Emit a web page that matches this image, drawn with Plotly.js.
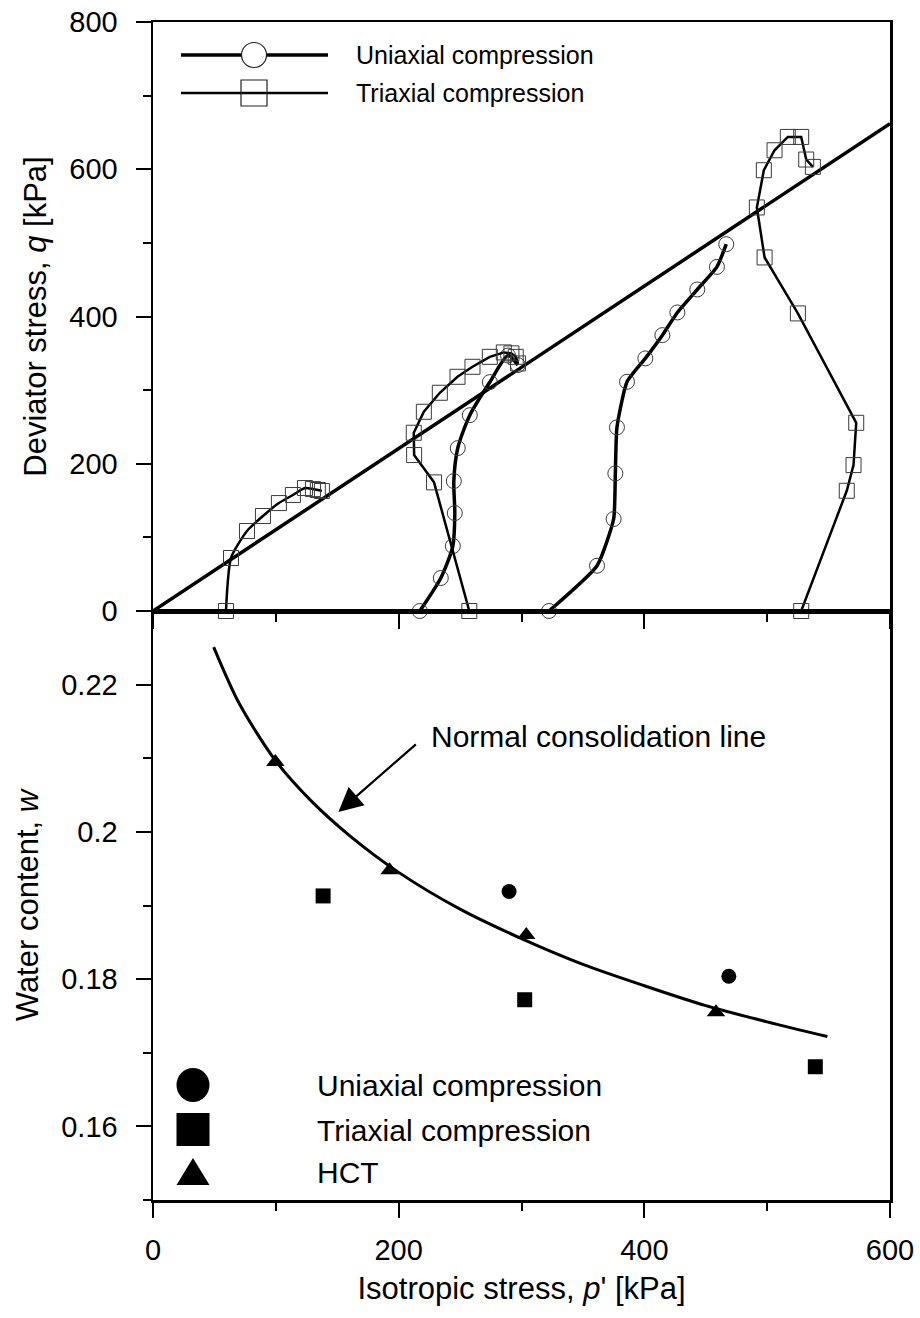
<!DOCTYPE html>
<html><head><meta charset="utf-8">
<script src="https://cdn.plot.ly/plotly-3.0.1.min.js"></script>
<style>html,body{margin:0;padding:0;background:#fff}#chart{width:920px;height:1318px}</style>
</head><body><div id="chart"></div>
<script>
// ---- Top panel: stress paths (p' [kPa], q [kPa]) ----
const failP = [0, 600];
const failQ = [0, 662];

const tri1P = [59.4, 63.5, 76.5, 89.5, 102.5, 113.9, 123.7, 130.2, 134.2, 137.5];
const tri1Q = [0, 72, 108.6, 129, 146.6, 157.5, 167, 165.6, 164.3, 163];

const uni2P = [217.2, 234.3, 244.1, 245.7, 244.9, 248.1, 257.9, 274.2, 289.0, 297.0];
const uni2Q = [0, 44.8, 88.2, 133, 176.5, 221.3, 266, 310.9, 347.0, 334.0];

const tri3P = [257.5, 228.8, 212.6, 212.3, 220.5, 233.5, 247.9, 260.1, 274.2, 285.6, 291.8, 295.3, 297.2];
const tri3Q = [0, 174.7, 211.8, 242.1, 270.6, 296.4, 318.1, 331.7, 345.2, 351.2, 349.9, 345.2, 336.3];

const uni4P = [322.4, 361.5, 375.0, 376.4, 377.7, 385.9, 400.8, 414.7, 426.9, 443.1, 459.1, 466.7];
const uni4Q = [0, 61.5, 124.9, 186.9, 249.4, 311.3, 343.1, 374.7, 405.5, 436.7, 467.4, 498.2];

const tri5P = [527.7, 564.8, 570.3, 572.5, 525.0, 497.9, 491.6, 497.3, 506.0, 516.8, 527.7, 531.8, 537.2];
const tri5Q = [0, 163.3, 198.2, 255.6, 404.2, 480.2, 548.1, 598.7, 625.8, 643.9, 643.9, 613.2, 603.2];

// ---- Bottom panel: water content vs isotropic stress ----
const nclP = [49.4, 70, 99.6, 130, 160, 200, 250, 300, 350, 400, 450, 500, 549];
const nclW = [0.2251, 0.2175, 0.2097, 0.2040, 0.1995, 0.1945, 0.1895, 0.1855, 0.1820, 0.1791, 0.1764, 0.1742, 0.1722];

const uniP = [289.9, 468.8];
const uniW = [0.1919, 0.1804];
const triP = [138.5, 302.6, 539.2];
const triW = [0.1913, 0.1772, 0.1681];
const hctP = [99.6, 192.6, 303.9, 458.3];
const hctW = [0.2095, 0.1948, 0.1860, 0.1755];

const legendTop = ['Uniaxial compression', 'Triaxial compression'];
const legendBottom = ['Uniaxial compression', 'Triaxial compression', 'HCT'];
const nclLabel = 'Normal consolidation line';

const FONT = 'Liberation Sans, Arial, sans-serif';
const openMarker = (sym) => ({symbol: sym, size: 15, color: '#3a3a3a', line: {width: 1, color: '#3a3a3a'}});

const traces = [
  {x: failP, y: failQ, mode: 'lines', line: {color: '#000', width: 3.5}, xaxis: 'x', yaxis: 'y', hoverinfo: 'skip'},
  {x: tri1P, y: tri1Q, mode: 'lines+markers', line: {color: '#000', width: 2.5, shape: 'spline', smoothing: 0.6}, marker: openMarker('square-open'), cliponaxis: false, xaxis: 'x', yaxis: 'y'},
  {x: uni2P, y: uni2Q, mode: 'lines+markers', line: {color: '#000', width: 3.5, shape: 'spline', smoothing: 0.7}, marker: openMarker('circle-open'), cliponaxis: false, xaxis: 'x', yaxis: 'y'},
  {x: tri3P, y: tri3Q, mode: 'lines+markers', line: {color: '#000', width: 2.5}, marker: openMarker('square-open'), cliponaxis: false, xaxis: 'x', yaxis: 'y'},
  {x: uni4P, y: uni4Q, mode: 'lines+markers', line: {color: '#000', width: 3.5, shape: 'spline', smoothing: 0.5}, marker: openMarker('circle-open'), cliponaxis: false, xaxis: 'x', yaxis: 'y'},
  {x: tri5P, y: tri5Q, mode: 'lines+markers', line: {color: '#000', width: 2.5}, marker: openMarker('square-open'), cliponaxis: false, xaxis: 'x', yaxis: 'y'},
  {x: nclP, y: nclW, mode: 'lines', line: {color: '#000', width: 3, shape: 'spline', smoothing: 0.8}, xaxis: 'x2', yaxis: 'y2'},
  {x: uniP, y: uniW, mode: 'markers', marker: {symbol: 'circle', size: 15, color: '#000'}, xaxis: 'x2', yaxis: 'y2'},
  {x: triP, y: triW, mode: 'markers', marker: {symbol: 'square', size: 15, color: '#000'}, xaxis: 'x2', yaxis: 'y2'},
  {x: hctP, y: hctW, mode: 'markers', marker: {symbol: 'triangle-up', size: 16, color: '#000'}, xaxis: 'x2', yaxis: 'y2'}
];

const axisBase = {
  showline: true, linecolor: '#000', linewidth: 2.5, mirror: true,
  ticks: 'outside', ticklen: 15, tickwidth: 2, tickcolor: '#000',
  showgrid: false, zeroline: false,
  tickfont: {family: FONT, size: 29, color: '#000'},
  ticklabelstandoff: 12
};
const minorBase = {ticks: 'outside', ticklen: 8, tickwidth: 2, tickcolor: '#000', showgrid: false};

// paper-coordinate helpers for the hand-drawn legends (pixel -> paper)
const L = 153, R = 30, T = 22, B = 118, W = 920, H = 1318;
const px = (v) => (v - L) / (W - L - R);
const py = (v) => 1 - (v - T) / (H - T - B);

const shapes = [
  // top legend
  {type: 'line', xref: 'paper', yref: 'paper', x0: px(181), x1: px(328), y0: py(55), y1: py(55), line: {color: '#000', width: 3.5}},
  {type: 'circle', xref: 'paper', yref: 'paper', x0: px(241.5), x1: px(266.5), y0: py(67.5), y1: py(42.5), fillcolor: '#fff', line: {color: '#222', width: 1.2}},
  {type: 'line', xref: 'paper', yref: 'paper', x0: px(181), x1: px(328), y0: py(93), y1: py(93), line: {color: '#000', width: 2.5}},
  {type: 'rect', xref: 'paper', yref: 'paper', x0: px(241), x1: px(267), y0: py(106), y1: py(80), fillcolor: 'rgba(255,255,255,0)', line: {color: '#222', width: 1.2}},
  // bottom legend
  {type: 'circle', xref: 'paper', yref: 'paper', x0: px(176.5), x1: px(209.5), y0: py(1102), y1: py(1068), fillcolor: '#000', line: {color: '#000', width: 0}},
  {type: 'rect', xref: 'paper', yref: 'paper', x0: px(176.5), x1: px(209.5), y0: py(1146), y1: py(1113), fillcolor: '#000', line: {color: '#000', width: 0}},
  {type: 'path', xref: 'paper', yref: 'paper', path: `M ${px(193)} ${py(1158)} L ${px(209.5)} ${py(1185)} L ${px(176.5)} ${py(1185)} Z`, fillcolor: '#000', line: {color: '#000', width: 0}}
];

const annotations = [
  {xref: 'paper', yref: 'paper', x: px(354), y: py(55), xanchor: 'left', yanchor: 'middle', text: legendTop[0], showarrow: false, font: {family: FONT, size: 25, color: '#000'}},
  {xref: 'paper', yref: 'paper', x: px(354), y: py(93), xanchor: 'left', yanchor: 'middle', text: legendTop[1], showarrow: false, font: {family: FONT, size: 25, color: '#000'}},
  {xref: 'paper', yref: 'paper', x: px(315), y: py(1085), xanchor: 'left', yanchor: 'middle', text: legendBottom[0], showarrow: false, font: {family: FONT, size: 30, color: '#000'}},
  {xref: 'paper', yref: 'paper', x: px(315), y: py(1130), xanchor: 'left', yanchor: 'middle', text: legendBottom[1], showarrow: false, font: {family: FONT, size: 30, color: '#000'}},
  {xref: 'paper', yref: 'paper', x: px(315), y: py(1172), xanchor: 'left', yanchor: 'middle', text: legendBottom[2], showarrow: false, font: {family: FONT, size: 30, color: '#000'}},
  {xref: 'x2', yref: 'y2', x: 225, y: 0.2129, xanchor: 'left', yanchor: 'middle', text: nclLabel, showarrow: false, font: {family: FONT, size: 30, color: '#000'}},
  {xref: 'x2', yref: 'y2', x: 150.9, y: 0.2027, text: '', showarrow: true, ax: 79, ay: -69, arrowhead: 2, arrowsize: 2.2, arrowwidth: 2.2, arrowcolor: '#000', standoff: 0}
];

const layout = {
  width: W, height: H,
  margin: {l: L, r: R, t: T, b: B},
  paper_bgcolor: '#fff', plot_bgcolor: '#fff',
  showlegend: false,
  font: {family: FONT, color: '#000'},
  xaxis: Object.assign({}, axisBase, {domain: [0, 1], anchor: 'y', range: [0, 600], dtick: 200, tick0: 0, showticklabels: false, minor: Object.assign({dtick: 100}, minorBase)}),
  yaxis: Object.assign({}, axisBase, {domain: [0.5, 1], anchor: 'x', range: [0, 800], dtick: 200, tick0: 0, minor: Object.assign({dtick: 100}, minorBase),
    title: {text: 'Deviator stress, <i>q</i> [kPa]', font: {family: FONT, size: 31, color: '#000'}, standoff: 14}}),
  xaxis2: Object.assign({}, axisBase, {domain: [0, 1], anchor: 'y2', range: [0, 600], dtick: 200, tick0: 0, minor: Object.assign({dtick: 100}, minorBase),
    ticklabelstandoff: 8,
    title: {text: "Isotropic stress, <i>p</i>' [kPa]", font: {family: FONT, size: 31, color: '#000'}, standoff: 12}}),
  yaxis2: Object.assign({}, axisBase, {domain: [0, 0.5], anchor: 'x2', range: [0.15, 0.23], dtick: 0.02, tick0: 0.16, minor: Object.assign({dtick: 0.01, tick0: 0.15}, minorBase),
    title: {text: 'Water content, <i>w</i>', font: {family: FONT, size: 31, color: '#000'}, standoff: 14}}),
  shapes: shapes,
  annotations: annotations
};

Plotly.newPlot('chart', traces, layout, {staticPlot: true, displayModeBar: false});
</script></body></html>
